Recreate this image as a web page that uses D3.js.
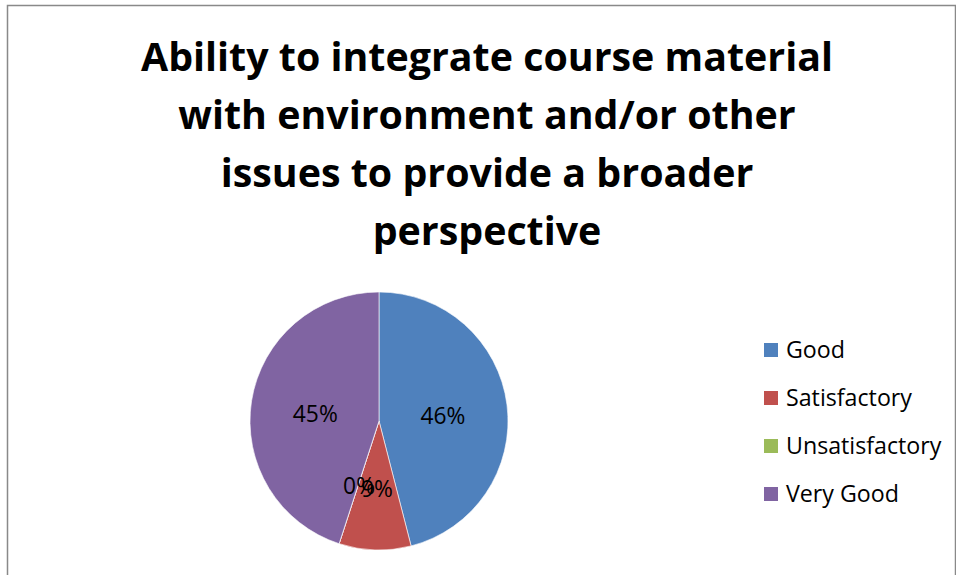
<!DOCTYPE html>
<html>
<head>
<meta charset="utf-8">
<script src="https://cdn.jsdelivr.net/npm/d3@7"></script>
<style>
  body { margin: 0; background: #fff; }
  svg { display: block; font-family: "Open Sans", sans-serif; }
</style>
</head>
<body>
<div id="chart"></div>
<script>
// Daten
const categories = ["Good", "Satisfactory", "Unsatisfactory", "Very Good"];
const percents = [46, 9, 0, 45];
const colors = ["#4F81BD", "#C0504D", "#9BBB59", "#8064A2"];
const titleLines = [
  "Ability to integrate course material",
  "with environment and/or other",
  "issues to provide a broader",
  "perspective"
];

const breite = 956, hoehe = 575;
const svg = d3.select("#chart").append("svg")
  .attr("width", breite)
  .attr("height", hoehe);

// Rahmen
svg.append("rect")
  .attr("x", 7.5).attr("y", 5.5)
  .attr("width", 948).attr("height", 620)
  .attr("fill", "none")
  .attr("stroke", "#898989")
  .attr("stroke-width", 1.5);

// Titel
const titleG = svg.append("g").attr("class", "title");
const titleY = d3.scalePoint().domain(d3.range(titleLines.length)).range([71, 245]);
const titleText = titleG.selectAll("text")
  .data(titleLines)
  .enter()
  .append("text")
  .attr("x", 487)
  .attr("y", (d, i) => titleY(i))
  .attr("text-anchor", "middle")
  .attr("font-weight", "bold")
  .attr("font-size", 40)
  .attr("fill", "#000")
  .text(d => d);
// Schriftgröße an die Breite der ersten Zeile anpassen
const w0 = titleText.node().getComputedTextLength();
titleText.attr("font-size", 40 * 692 / w0);

// Kreisdiagramm
const cx = 379, cy = 421, radius = 129;
const data = categories.map((c, i) => ({ name: c, value: percents[i], color: colors[i] }));
const pie = d3.pie().value(d => d.value).sort(null);
const arc = d3.arc().innerRadius(0).outerRadius(radius);
const arcs = pie(data);

const pieG = svg.append("g").attr("transform", `translate(${cx},${cy})`);
pieG.selectAll("path")
  .data(arcs)
  .enter()
  .append("path")
  .attr("d", arc)
  .attr("fill", d => d.data.color)
  .attr("stroke", "#fff")
  .attr("stroke-width", 0.6);

const labels = pieG.selectAll(".lbl")
  .data(arcs)
  .enter()
  .append("text")
  .attr("class", "lbl")
  .attr("transform", d => {
    const [x, y] = arc.centroid(d);
    return `translate(${x},${y + 3.5})`;
  })
  .attr("text-anchor", "middle")
  .attr("dy", "0.35em")
  .attr("font-size", 22)
  .attr("fill", "#000")
  .text(d => d.data.value + "%");
const lw = labels.node().getComputedTextLength();
labels.attr("font-size", 22 * 45 / lw);

// Legende
const legendY = d3.scalePoint().domain(categories).range([350, 494]);
const legend = svg.append("g").attr("class", "legend");
const items = legend.selectAll("g")
  .data(data)
  .enter()
  .append("g")
  .attr("transform", d => `translate(764,${legendY(d.name)})`);
items.append("rect")
  .attr("x", 0).attr("y", -7)
  .attr("width", 14).attr("height", 14)
  .attr("fill", d => d.color);
const legText = items.append("text")
  .attr("x", 22)
  .attr("dy", "0.35em")
  .attr("font-size", 22)
  .attr("fill", "#000")
  .text(d => d.name);
const sw = legText.filter(d => d.name === "Satisfactory").node().getComputedTextLength();
legText.attr("font-size", 22 * 126 / sw);
</script>
</body>
</html>
